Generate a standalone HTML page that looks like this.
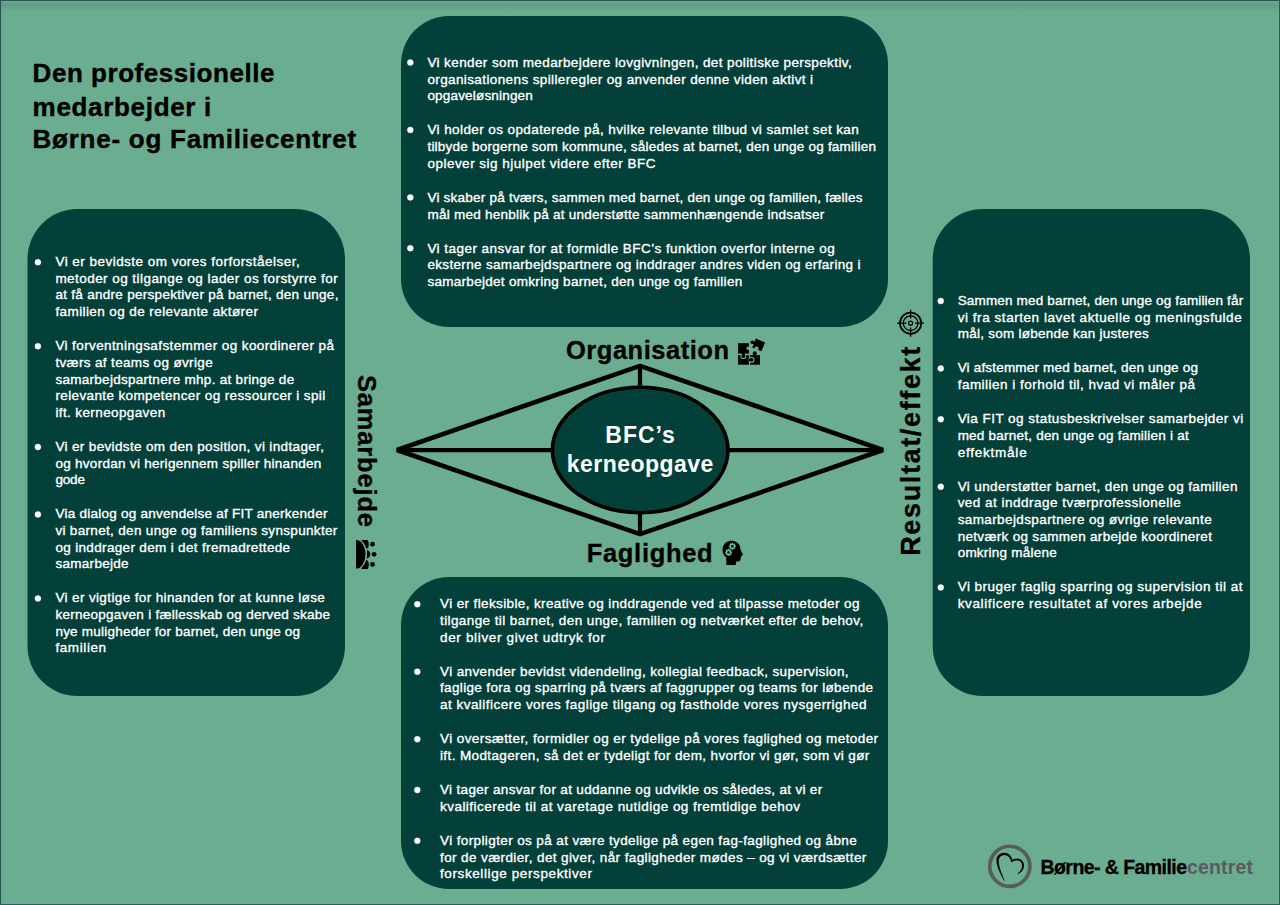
<!DOCTYPE html>
<html><head><meta charset="utf-8">
<style>
html,body{margin:0;padding:0;background:#6aad91;}
body{width:1280px;height:905px;overflow:hidden;position:relative;}
svg{display:block;position:absolute;left:0;top:0;}
.b{font-family:"Liberation Sans",sans-serif;font-size:13.5px;fill:#fff;stroke:#fff;stroke-width:0.35px;}
.lab{font-family:"Liberation Sans",sans-serif;font-weight:bold;fill:#000;}
</style></head><body>
<svg width="1280" height="905" viewBox="0 0 1280 905">
<rect x="0" y="0" width="1280" height="905" fill="#6aad91"/>
<defs><linearGradient id="tb" x1="0" y1="0" x2="0" y2="1"><stop offset="0" stop-color="#000" stop-opacity="0"/><stop offset="0.45" stop-color="#0b3a2a" stop-opacity="0.11"/><stop offset="1" stop-color="#000" stop-opacity="0"/></linearGradient>
<linearGradient id="lb" x1="0" y1="0" x2="1" y2="0"><stop offset="0" stop-color="#0b3a2a" stop-opacity="0.06"/><stop offset="1" stop-color="#000" stop-opacity="0"/></linearGradient></defs>
<rect x="1" y="1" width="1278" height="9" fill="url(#tb)"/>
<rect x="1" y="1" width="4" height="903" fill="url(#lb)"/>
<rect x="0" y="0" width="1280" height="1" fill="#2a5452"/>
<rect x="0" y="0" width="1" height="905" fill="#2a5452"/>
<rect x="1279" y="0" width="1" height="905" fill="#305b57"/>
<rect x="0" y="904" width="1280" height="1" fill="#305b57"/>
<!-- boxes -->
<g fill="#03403a">
<rect x="401" y="16" width="487" height="311" rx="48" ry="48"/>
<rect x="27.5" y="209" width="317.5" height="487" rx="50" ry="50"/>
<rect x="932.7" y="209" width="317.3" height="487" rx="50" ry="50"/>
<rect x="401" y="577" width="487" height="312" rx="48" ry="48"/>
</g>
<!-- diamond -->
<g stroke="#000" fill="none" stroke-linejoin="bevel">
<polygon points="397,450 640,365.8 883,450 640,534.2" stroke-width="4.6"/>
<line x1="397" y1="450.2" x2="883" y2="450.2" stroke-width="4.2"/>
<line x1="640" y1="366" x2="640" y2="534" stroke-width="4.2"/>
</g>
<ellipse cx="640.2" cy="450" rx="87.8" ry="62.7" fill="#03403a" stroke="#000" stroke-width="3.6"/>
<g class="lab" fill="#fff" style="fill:#fff;font-size:23px">
<text x="605.3" y="443.1" textLength="69.6" lengthAdjust="spacing">BFC’s</text>
<text x="566.8" y="471.9" textLength="146.6" lengthAdjust="spacing">kerneopgave</text>
</g>
<!-- title -->
<g class="lab" style="font-size:26px;stroke:#000;stroke-width:0.4px">
<text x="32.6" y="82.4" textLength="241.8" lengthAdjust="spacing">Den professionelle</text>
<text x="32.6" y="115.5" textLength="178.7" lengthAdjust="spacing">medarbejder i</text>
<text x="32.6" y="148.1" textLength="323.5" lengthAdjust="spacing">Børne- og Familiecentret</text>
</g>
<!-- labels -->
<g class="lab" style="font-size:25.5px;stroke:#000;stroke-width:0.3px">
<text x="566" y="359.2" textLength="163" lengthAdjust="spacing">Organisation</text>
<text x="586.7" y="562.1" textLength="126" lengthAdjust="spacing">Faglighed</text>
<text x="375" y="-358" transform="rotate(90)" textLength="152" lengthAdjust="spacing">Samarbejde</text>
<text x="-555.8" y="920.3" transform="rotate(-90)" textLength="209" lengthAdjust="spacing" style="font-size:27px">Resultat/effekt</text>
</g>
<!-- body text -->
<g class="b">
<circle cx="410.3" cy="62.50" r="3" fill="#fff"/>
<text x="427.40" y="67.00" textLength="424.30" lengthAdjust="spacing">Vi kender som medarbejdere lovgivningen, det politiske perspektiv,</text>
<text x="427.40" y="83.62" textLength="385.70" lengthAdjust="spacing">organisationens spilleregler og anvender denne viden aktivt i</text>
<text x="427.40" y="100.24" textLength="105.40" lengthAdjust="spacing">opgaveløsningen</text>
<circle cx="410.3" cy="129.94" r="3" fill="#fff"/>
<text x="427.40" y="134.44" textLength="431.40" lengthAdjust="spacing">Vi holder os opdaterede på, hvilke relevante tilbud vi samlet set kan</text>
<text x="427.40" y="151.06" textLength="448.60" lengthAdjust="spacing">tilbyde borgerne som kommune, således at barnet, den unge og familien</text>
<text x="427.40" y="167.68" textLength="228.10" lengthAdjust="spacing">oplever sig hjulpet videre efter BFC</text>
<circle cx="410.3" cy="197.38" r="3" fill="#fff"/>
<text x="427.40" y="201.88" textLength="435.00" lengthAdjust="spacing">Vi skaber på tværs, sammen med barnet, den unge og familien, fælles</text>
<text x="427.40" y="218.50" textLength="396.80" lengthAdjust="spacing">mål med henblik på at understøtte sammenhængende indsatser</text>
<circle cx="410.3" cy="248.20" r="3" fill="#fff"/>
<text x="427.40" y="252.70" textLength="407.40" lengthAdjust="spacing">Vi tager ansvar for at formidle BFC’s funktion overfor interne og</text>
<text x="427.40" y="269.32" textLength="433.10" lengthAdjust="spacing">eksterne samarbejdspartnere og inddrager andres viden og erfaring i</text>
<text x="427.40" y="285.94" textLength="314.80" lengthAdjust="spacing">samarbejdet omkring barnet, den unge og familien</text>
<circle cx="37.9" cy="262.25" r="3" fill="#fff"/>
<text x="55.40" y="266.25" textLength="244.25" lengthAdjust="spacing">Vi er bevidste om vores forforståelser,</text>
<text x="55.40" y="282.87" textLength="282.25" lengthAdjust="spacing">metoder og tilgange og lader os forstyrre for</text>
<text x="55.40" y="299.49" textLength="283.00" lengthAdjust="spacing">at få andre perspektiver på barnet, den unge,</text>
<text x="55.40" y="316.11" textLength="202.50" lengthAdjust="spacing">familien og de relevante aktører</text>
<circle cx="37.9" cy="346.31" r="3" fill="#fff"/>
<text x="55.40" y="350.31" textLength="278.50" lengthAdjust="spacing">Vi forventningsafstemmer og koordinerer på</text>
<text x="55.40" y="366.93" textLength="157.25" lengthAdjust="spacing">tværs af teams og øvrige</text>
<text x="55.40" y="383.55" textLength="238.75" lengthAdjust="spacing">samarbejdspartnere mhp. at bringe de</text>
<text x="55.40" y="400.17" textLength="269.75" lengthAdjust="spacing">relevante kompetencer og ressourcer i spil</text>
<text x="55.40" y="416.79" textLength="109.75" lengthAdjust="spacing">ift. kerneopgaven</text>
<circle cx="37.9" cy="446.99" r="3" fill="#fff"/>
<text x="55.40" y="450.99" textLength="268.60" lengthAdjust="spacing">Vi er bevidste om den position, vi indtager,</text>
<text x="55.40" y="467.61" textLength="265.90" lengthAdjust="spacing">og hvordan vi herigennem spiller hinanden</text>
<text x="55.40" y="484.23" textLength="29.50" lengthAdjust="spacing">gode</text>
<circle cx="37.9" cy="514.43" r="3" fill="#fff"/>
<text x="55.40" y="518.43" textLength="272.00" lengthAdjust="spacing">Via dialog og anvendelse af FIT anerkender</text>
<text x="55.40" y="535.05" textLength="281.90" lengthAdjust="spacing">vi barnet, den unge og familiens synspunkter</text>
<text x="55.40" y="551.67" textLength="234.70" lengthAdjust="spacing">og inddrager dem i det fremadrettede</text>
<text x="55.40" y="568.29" textLength="73.20" lengthAdjust="spacing">samarbejde</text>
<circle cx="37.9" cy="598.49" r="3" fill="#fff"/>
<text x="55.40" y="602.49" textLength="269.40" lengthAdjust="spacing">Vi er vigtige for hinanden for at kunne løse</text>
<text x="55.40" y="619.11" textLength="274.70" lengthAdjust="spacing">kerneopgaven i fællesskab og derved skabe</text>
<text x="55.40" y="635.73" textLength="244.70" lengthAdjust="spacing">nye muligheder for barnet, den unge og</text>
<text x="55.40" y="652.35" textLength="50.70" lengthAdjust="spacing">familien</text>
<circle cx="940.75" cy="301.00" r="3" fill="#fff"/>
<text x="957.65" y="305.00" textLength="285.50" lengthAdjust="spacing">Sammen med barnet, den unge og familien får</text>
<text x="957.65" y="321.62" textLength="284.00" lengthAdjust="spacing">vi fra starten lavet aktuelle og meningsfulde</text>
<text x="957.65" y="338.24" textLength="191.00" lengthAdjust="spacing">mål, som løbende kan justeres</text>
<circle cx="940.75" cy="368.44" r="3" fill="#fff"/>
<text x="957.65" y="372.44" textLength="240.25" lengthAdjust="spacing">Vi afstemmer med barnet, den unge og</text>
<text x="957.65" y="389.06" textLength="237.25" lengthAdjust="spacing">familien i forhold til, hvad vi måler på</text>
<circle cx="940.75" cy="419.26" r="3" fill="#fff"/>
<text x="957.65" y="423.26" textLength="285.50" lengthAdjust="spacing">Via FIT og statusbeskrivelser samarbejder vi</text>
<text x="957.65" y="439.88" textLength="231.00" lengthAdjust="spacing">med barnet, den unge og familien i at</text>
<text x="957.65" y="456.50" textLength="69.00" lengthAdjust="spacing">effektmåle</text>
<circle cx="940.75" cy="486.70" r="3" fill="#fff"/>
<text x="957.65" y="490.70" textLength="279.75" lengthAdjust="spacing">Vi understøtter barnet, den unge og familien</text>
<text x="957.65" y="507.32" textLength="223.00" lengthAdjust="spacing">ved at inddrage tværprofessionelle</text>
<text x="957.65" y="523.94" textLength="254.00" lengthAdjust="spacing">samarbejdspartnere og øvrige relevante</text>
<text x="957.65" y="540.56" textLength="254.25" lengthAdjust="spacing">netværk og sammen arbejde koordineret</text>
<text x="957.65" y="557.18" textLength="99.00" lengthAdjust="spacing">omkring målene</text>
<circle cx="940.75" cy="587.38" r="3" fill="#fff"/>
<text x="957.65" y="591.38" textLength="284.75" lengthAdjust="spacing">Vi bruger faglig sparring og supervision til at</text>
<text x="957.65" y="608.00" textLength="244.00" lengthAdjust="spacing">kvalificere resultatet af vores arbejde</text>
<circle cx="417.3" cy="604.30" r="3" fill="#fff"/>
<text x="440.00" y="608.40" textLength="419.40" lengthAdjust="spacing">Vi er fleksible, kreative og inddragende ved at tilpasse metoder og</text>
<text x="440.00" y="625.02" textLength="423.20" lengthAdjust="spacing">tilgange til barnet, den unge, familien og netværket efter de behov,</text>
<text x="440.00" y="641.64" textLength="165.00" lengthAdjust="spacing">der bliver givet udtryk for</text>
<circle cx="417.3" cy="671.74" r="3" fill="#fff"/>
<text x="440.00" y="675.84" textLength="408.60" lengthAdjust="spacing">Vi anvender bevidst videndeling, kollegial feedback, supervision,</text>
<text x="440.00" y="692.46" textLength="433.00" lengthAdjust="spacing">faglige fora og sparring på tværs af faggrupper og teams for løbende</text>
<text x="440.00" y="709.08" textLength="426.50" lengthAdjust="spacing">at kvalificere vores faglige tilgang og fastholde vores nysgerrighed</text>
<circle cx="417.3" cy="739.18" r="3" fill="#fff"/>
<text x="440.00" y="743.28" textLength="438.10" lengthAdjust="spacing">Vi oversætter, formidler og er tydelige på vores faglighed og metoder</text>
<text x="440.00" y="759.90" textLength="429.30" lengthAdjust="spacing">ift. Modtageren, så det er tydeligt for dem, hvorfor vi gør, som vi gør</text>
<circle cx="417.3" cy="790.00" r="3" fill="#fff"/>
<text x="440.00" y="794.10" textLength="382.20" lengthAdjust="spacing">Vi tager ansvar for at uddanne og udvikle os således, at vi er</text>
<text x="440.00" y="810.72" textLength="359.90" lengthAdjust="spacing">kvalificerede til at varetage nutidige og fremtidige behov</text>
<circle cx="417.3" cy="840.82" r="3" fill="#fff"/>
<text x="440.00" y="844.92" textLength="416.70" lengthAdjust="spacing">Vi forpligter os på at være tydelige på egen fag-faglighed og åbne</text>
<text x="440.00" y="861.54" textLength="426.30" lengthAdjust="spacing">for de værdier, det giver, når fagligheder mødes – og vi værdsætter</text>
<text x="440.00" y="878.16" textLength="151.90" lengthAdjust="spacing">forskellige perspektiver</text>
</g>
<!-- icons -->
<!-- target -->
<g fill="none" stroke="#000">
<circle cx="910.6" cy="323.2" r="10.6" stroke-width="1.8"/>
<circle cx="910.6" cy="323.2" r="7.3" stroke-width="1.3"/>
<circle cx="910.6" cy="323.2" r="2" stroke-width="1.2"/>
<path d="M910.6,309.8 V318.6 M910.6,327.6 V336.7 M897,323.2 H906.4 M915 323.2 H924" stroke-width="1.3"/>
</g>
<!-- puzzle -->
<g>
<rect x="738.1" y="355.1" width="10.8" height="9.6" fill="#000"/>
<rect x="750.1" y="355.1" width="9.9" height="9.6" fill="#000"/>
<circle cx="743.4" cy="356" r="3.1" fill="#6aad91"/>
<circle cx="751.4" cy="359.8" r="3.1" fill="#6aad91"/>
<rect x="738.1" y="343.2" width="10.8" height="10.4" fill="#000"/>
<rect x="742.3" y="353" width="2.2" height="2" fill="#000"/>
<circle cx="743.4" cy="356" r="2" fill="#000"/>
<rect x="748.5" y="358.7" width="1.8" height="2.2" fill="#000"/>
<circle cx="751.4" cy="359.8" r="2" fill="#000"/>
<circle cx="748.2" cy="348.3" r="1.8" fill="#6aad91"/>
<circle cx="754.7" cy="353.3" r="2" fill="#000"/>
<rect x="753.6" y="354" width="2.2" height="1.5" fill="#000"/>
<polygon points="755.8,338.4 765.1,342.5 761.4,351.2 752.3,347.4" fill="#000"/>
<circle cx="752.3" cy="342.2" r="1.8" fill="#000"/>
<line x1="752.3" y1="342.2" x2="755" y2="343.3" stroke="#000" stroke-width="2"/>
<circle cx="756.6" cy="348.6" r="2" fill="#6aad91"/>
</g>
<!-- head -->
<path d="M726.3,564.9 L726.3,557.6 C724.5,556 722.5,553.5 722.5,550.3 C722.5,544.6 726.5,540.8 731.3,540.8 C735.5,540.8 739.2,543.3 739.9,546.3 C740.3,548 740.6,549.5 740.9,550.6 L742.9,554.6 C743,555.3 742.2,555.8 741.2,555.9 L740.9,557.9 L740.5,559.5 C740.2,561 739,561.7 737.2,561.6 L735.8,561.7 L735.8,564.9 Z" fill="#000"/>
<g fill="#6aad91">
<g transform="translate(732.4,546.3)"><circle r="2.8"/><rect x="-0.7" y="-3.6" width="1.4" height="7.2"/><rect x="-3.6" y="-0.7" width="7.2" height="1.4"/><rect x="-0.7" y="-3.6" width="1.4" height="7.2" transform="rotate(45)"/><rect x="-3.6" y="-0.7" width="7.2" height="1.4" transform="rotate(45)"/><circle r="1.2" fill="#000"/></g>
<g transform="translate(728.6,552.4)"><circle r="2.8"/><rect x="-0.7" y="-3.6" width="1.4" height="7.2"/><rect x="-3.6" y="-0.7" width="7.2" height="1.4"/><rect x="-0.7" y="-3.6" width="1.4" height="7.2" transform="rotate(45)"/><rect x="-3.6" y="-0.7" width="7.2" height="1.4" transform="rotate(45)"/><circle r="1.2" fill="#000"/></g>
</g>
<!-- people -->
<g fill="#000">
<path d="M361.5,540 H367.6 C368.6,541.5 368.9,543.5 368.7,545.5 C368.5,547 367.8,548.2 366.9,548.4 H361.5 Z"/>
<path d="M366.5,549.9 C369,550.5 370.3,552 370.3,554.3 C370.3,556.6 369,558.1 366.5,558.7 Z"/>
<path d="M361.5,569 H367.6 C368.6,567.5 368.9,565.5 368.7,563.5 C368.5,562 367.8,560.3 366.9,560 H361.5 Z"/>
<path d="M356,538.7 A11,15.6 0 0 1 356,569.9 Z" fill="#6aad91"/>
<path d="M356,540 A9.5,14.3 0 0 1 356,568.6 Z"/>
<circle cx="372.5" cy="544.2" r="2.4"/>
<circle cx="374.1" cy="554.3" r="2.4"/>
<circle cx="372.5" cy="564.4" r="2.4"/>
</g>

<!-- logo -->
<circle cx="1009.8" cy="866.3" r="20.05" fill="none" stroke="#595b5f" stroke-width="3.7"/>
<path d="M1004.72,880.89 L1004.34,879.98 L1003.96,879.07 L1003.59,878.15 L1003.22,877.22 L1002.86,876.29 L1002.49,875.37 L1002.12,874.45 L1001.76,873.53 L1001.42,872.61 L1001.08,871.70 L1000.77,870.80 L1000.47,869.91 L1000.19,869.02 L999.93,868.15 L999.69,867.29 L999.48,866.45 L999.29,865.62 L999.12,864.82 L998.99,864.03 L998.88,863.27 L998.80,862.54 L998.76,861.84 L998.74,861.16 L998.76,860.52 L998.80,860.11 L998.86,859.70 L998.95,859.32 L999.05,858.96 L999.17,858.61 L999.30,858.28 L999.44,857.97 L999.60,857.67 L999.78,857.39 L999.97,857.12 L1000.18,856.87 L1000.41,856.64 L1000.66,856.42 L1000.92,856.21 L1001.20,856.02 L1001.50,855.85 L1001.81,855.70 L1002.15,855.56 L1002.50,855.44 L1002.86,855.34 L1003.25,855.25 L1003.65,855.19 L1004.07,855.15 L1004.50,855.13 L1004.92,855.14 L1005.32,855.17 L1005.71,855.23 L1006.08,855.31 L1006.44,855.41 L1006.78,855.53 L1007.11,855.67 L1007.44,855.84 L1007.75,856.03 L1008.05,856.24 L1008.33,856.47 L1008.61,856.73 L1008.88,857.02 L1009.13,857.32 L1009.38,857.65 L1009.61,858.01 L1009.82,858.38 L1010.03,858.78 L1010.22,859.20 L1010.39,859.65 L1010.55,860.11 L1010.70,860.59 L1010.81,861.10 L1011.04,861.97 L1012.46,861.88 L1012.60,861.74 L1012.76,861.61 L1012.91,861.49 L1013.08,861.37 L1013.25,861.26 L1013.43,861.16 L1013.61,861.07 L1013.80,860.98 L1014.00,860.90 L1014.20,860.82 L1014.41,860.76 L1014.63,860.69 L1014.86,860.64 L1015.09,860.59 L1015.33,860.55 L1015.58,860.51 L1015.83,860.48 L1016.09,860.45 L1016.36,860.44 L1016.64,860.42 L1016.92,860.41 L1017.21,860.41 L1017.44,860.41 L1017.80,860.46 L1018.16,860.53 L1018.50,860.62 L1018.83,860.73 L1019.14,860.86 L1019.44,861.00 L1019.72,861.16 L1019.98,861.34 L1020.23,861.53 L1020.46,861.73 L1020.68,861.95 L1020.88,862.18 L1021.06,862.43 L1021.23,862.69 L1021.40,862.95 L1021.55,863.23 L1021.68,863.53 L1021.80,863.84 L1021.89,864.16 L1021.97,864.49 L1022.03,864.84 L1022.07,865.20 L1022.09,865.57 L1022.09,865.95 L1022.07,866.34 L1022.03,866.71 L1021.97,867.08 L1021.89,867.44 L1021.80,867.80 L1021.68,868.14 L1021.56,868.48 L1021.41,868.81 L1021.25,869.14 L1021.08,869.46 L1020.89,869.77 L1020.69,870.08 L1020.49,870.40 L1020.29,870.72 L1020.06,871.03 L1019.83,871.33 L1019.59,871.64 L1019.33,871.93 L1019.06,872.23 L1018.79,872.51 L1018.50,872.80 L1018.21,873.07 L1017.91,873.35 L1017.60,873.62 L1018.00,874.18 L1018.36,873.97 L1018.72,873.75 L1019.08,873.52 L1019.43,873.28 L1019.78,873.04 L1020.12,872.78 L1020.45,872.51 L1020.78,872.24 L1021.09,871.95 L1021.40,871.65 L1021.70,871.34 L1021.99,871.02 L1022.24,870.67 L1022.48,870.31 L1022.70,869.93 L1022.91,869.55 L1023.11,869.15 L1023.28,868.75 L1023.44,868.33 L1023.58,867.89 L1023.69,867.45 L1023.79,867.00 L1023.86,866.53 L1023.91,866.05 L1023.93,865.57 L1023.93,865.09 L1023.90,864.62 L1023.84,864.16 L1023.75,863.71 L1023.64,863.26 L1023.50,862.83 L1023.33,862.42 L1023.14,862.01 L1022.92,861.63 L1022.67,861.26 L1022.40,860.92 L1022.10,860.59 L1021.78,860.29 L1021.43,860.00 L1021.07,859.74 L1020.69,859.51 L1020.29,859.30 L1019.88,859.11 L1019.45,858.95 L1019.00,858.82 L1018.54,858.72 L1018.06,858.64 L1017.56,858.59 L1017.17,858.59 L1016.85,858.61 L1016.54,858.63 L1016.22,858.65 L1015.92,858.68 L1015.61,858.72 L1015.31,858.77 L1015.02,858.82 L1014.73,858.88 L1014.44,858.95 L1014.16,859.03 L1013.89,859.12 L1013.62,859.22 L1013.35,859.32 L1013.10,859.44 L1012.84,859.56 L1012.60,859.70 L1012.36,859.85 L1012.13,860.01 L1011.90,860.18 L1011.68,860.36 L1011.48,860.55 L1011.28,860.75 L1012.36,861.03 L1012.39,860.79 L1012.28,860.22 L1012.15,859.66 L1012.01,859.12 L1011.84,858.59 L1011.66,858.08 L1011.45,857.58 L1011.22,857.10 L1010.96,856.65 L1010.69,856.21 L1010.39,855.79 L1010.06,855.39 L1009.72,855.02 L1009.35,854.67 L1008.96,854.35 L1008.54,854.05 L1008.10,853.78 L1007.65,853.55 L1007.17,853.34 L1006.67,853.18 L1006.15,853.05 L1005.61,852.95 L1005.06,852.89 L1004.50,852.87 L1003.95,852.87 L1003.40,852.91 L1002.87,852.98 L1002.35,853.07 L1001.84,853.20 L1001.35,853.35 L1000.87,853.53 L1000.41,853.74 L999.97,853.98 L999.55,854.25 L999.15,854.54 L998.76,854.86 L998.41,855.21 L998.07,855.58 L997.77,855.98 L997.49,856.40 L997.23,856.85 L997.01,857.31 L996.83,857.80 L996.68,858.30 L996.57,858.83 L996.50,859.36 L996.45,859.91 L996.44,860.48 L996.47,861.24 L996.54,862.01 L996.65,862.80 L996.79,863.61 L996.96,864.43 L997.16,865.26 L997.40,866.10 L997.66,866.96 L997.94,867.82 L998.25,868.70 L998.58,869.58 L998.93,870.47 L999.30,871.36 L999.69,872.26 L1000.09,873.16 L1000.51,874.06 L1000.93,874.97 L1001.37,875.87 L1001.83,876.76 L1002.31,877.65 L1002.80,878.52 L1003.29,879.39 L1003.78,880.26 L1004.28,881.11 Z" fill="#000"/>
<text class="lab" x="1040.5" y="873.8" style="font-size:19.5px;stroke:#000;stroke-width:0.3px" textLength="146.5" lengthAdjust="spacing">Børne- &amp; Familie</text>
<text class="lab" x="1187" y="873.8" style="font-size:19.5px;fill:#595b5f" textLength="66" lengthAdjust="spacing">centret</text>
</svg>
</body></html>
